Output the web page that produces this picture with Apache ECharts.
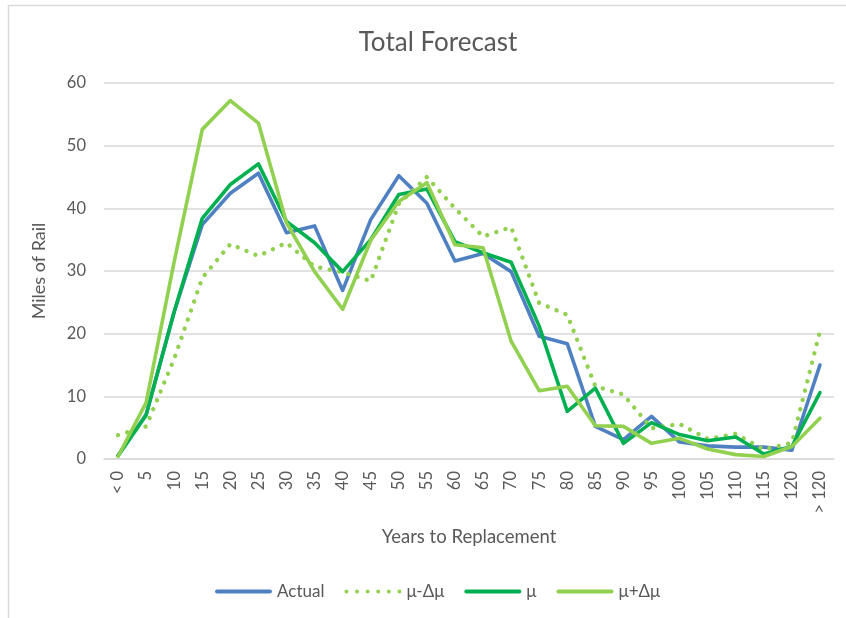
<!DOCTYPE html>
<html>
<head>
<meta charset="utf-8">
<script src="https://cdn.jsdelivr.net/npm/echarts@6/dist/echarts.min.js"></script>
<style>
  html, body { margin: 0; padding: 0; background: #ffffff; }
  #chart { width: 846px; height: 618px; }
</style>
</head>
<body>
<div id="chart"></div>
<script>
// Years to replacement buckets
const categories = ['< 0', '5', '10', '15', '20', '25', '30', '35', '40', '45', '50', '55', '60',
  '65', '70', '75', '80', '85', '90', '95', '100', '105', '110', '115', '120', '> 120'];

// Miles of rail per bucket
const actual = [0.6, 7.1, 23.5, 37.4, 42.4, 45.6, 36.1, 37.2, 26.9, 38.2, 45.2, 40.8, 31.6,
  32.8, 29.9, 19.6, 18.4, 5.2, 3.1, 6.8, 2.7, 2.1, 1.9, 1.9, 1.4, 15.0];
const muMinus = [3.8, 5.2, 16.0, 28.9, 34.3, 32.4, 34.5, 30.7, 29.8, 28.4, 40.7, 45.0, 40.0,
  35.5, 37.0, 24.9, 23.0, 11.6, 10.3, 4.9, 5.6, 3.2, 4.0, 1.5, 2.6, 20.4];
const mu = [0.5, 7.0, 23.5, 38.4, 43.8, 47.1, 37.9, 34.5, 29.9, 35.0, 42.2, 43.1, 34.7,
  32.9, 31.4, 21.2, 7.6, 11.3, 2.5, 5.8, 3.9, 2.9, 3.5, 0.8, 2.0, 10.6];
const muPlus = [0.4, 9.0, 31.5, 52.6, 57.2, 53.6, 37.7, 29.9, 23.9, 34.9, 41.1, 44.1, 34.2,
  33.7, 18.8, 10.9, 11.6, 5.3, 5.2, 2.5, 3.3, 1.6, 0.7, 0.4, 2.0, 6.5];

const FONT = 'Lato, "Noto Sans", sans-serif';
const TEXT = '#595959';
const GRID = '#d9d9d9';

// Legend icons: a rounded bar for solid series, a row of dots for the dotted one
const ICON_W = 57, ICON_H = 4;
const solidIcon = 'path://M2,0 L55,0 A2,2 0 0,1 55,4 L2,4 A2,2 0 0,1 2,0 Z';
let dotPath = '';
for (let k = 0; k < 6; k++) {
  const c = 2 + k * (ICON_W - 4) / 5;
  dotPath += 'M' + (c - 2) + ',2 A2,2 0 1,0 ' + (c + 2) + ',2 A2,2 0 1,0 ' + (c - 2) + ',2 Z ';
}
const dottedIcon = 'path://' + dotPath.trim();

const chart = echarts.init(document.getElementById('chart'), null, { renderer: 'canvas' });

function lineSeries(name, data, color, dotted) {
  return {
    name: name,
    type: 'line',
    data: data,
    symbol: 'none',
    showSymbol: false,
    smooth: false,
    lineStyle: dotted
      ? { color: color, width: 4.4, type: [0.01, 9.6], cap: 'round' }
      : { color: color, width: 3.6, cap: 'round', join: 'round' },
    itemStyle: { color: color },
    emphasis: { disabled: true }
  };
}

chart.setOption({
  animation: false,
  backgroundColor: '#ffffff',
  graphic: [{
    type: 'rect',
    shape: { x: 8.5, y: 5.5, width: 900, height: 700 },
    style: { fill: 'none', stroke: '#d9d9d9', lineWidth: 1.5 },
    silent: true,
    z: -1
  }],
  title: {
    text: 'Total Forecast',
    left: 433,
    top: 25,
    textAlign: 'center',
    textStyle: { fontFamily: FONT, fontSize: 26, fontWeight: 'normal', color: TEXT }
  },
  grid: { left: 104, right: 12, top: 83, bottom: 159, containLabel: false },
  legend: {
    top: 578,
    left: 210,
    itemWidth: ICON_W,
    itemHeight: ICON_H,
    itemGap: 20,
    textStyle: { fontFamily: FONT, fontSize: 17, color: TEXT },
    data: [
      { name: 'Actual', icon: solidIcon },
      { name: 'μ-Δμ', icon: dottedIcon },
      { name: 'μ', icon: solidIcon },
      { name: 'μ+Δμ', icon: solidIcon }
    ]
  },
  xAxis: {
    type: 'category',
    data: categories,
    boundaryGap: true,
    name: 'Years to Replacement',
    nameLocation: 'middle',
    nameGap: 69,
    nameTextStyle: { fontFamily: FONT, fontSize: 18.5, color: TEXT },
    axisLine: { show: true, lineStyle: { color: GRID, width: 1.5 } },
    axisTick: { show: false },
    axisLabel: {
      interval: 0,
      rotate: 90,
      margin: 12,
      fontFamily: FONT,
      fontSize: 16.5,
      color: TEXT
    },
    splitLine: { show: false }
  },
  yAxis: {
    type: 'value',
    min: 0,
    max: 60,
    interval: 10,
    name: 'Miles of Rail',
    nameLocation: 'middle',
    nameGap: 56,
    nameRotate: 90,
    nameTextStyle: { fontFamily: FONT, fontSize: 18, color: TEXT },
    axisLine: { show: false },
    axisTick: { show: false },
    axisLabel: { margin: 18, fontFamily: FONT, fontSize: 16.5, color: TEXT },
    splitLine: { show: true, lineStyle: { color: GRID, width: 1.5 } }
  },
  series: [
    lineSeries('Actual', actual, '#4f81c2', false),
    lineSeries('μ-Δμ', muMinus, '#92d050', true),
    lineSeries('μ', mu, '#00b050', false),
    lineSeries('μ+Δμ', muPlus, '#92d050', false)
  ]
});
</script>
</body>
</html>
